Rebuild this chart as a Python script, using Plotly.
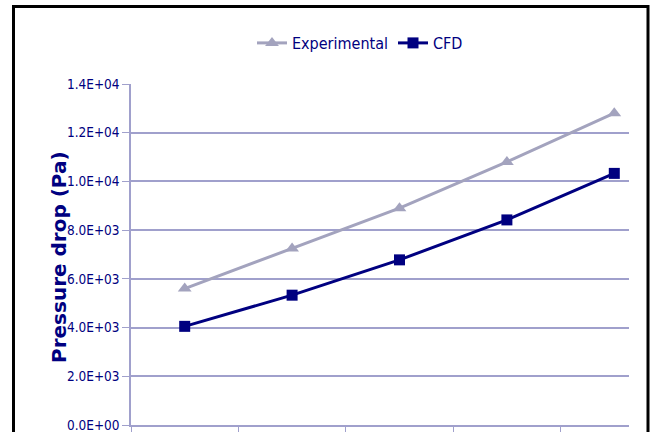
import plotly.graph_objects as go

categories = ["1", "2", "3", "4", "5"]
experimental = [5600, 7250, 8900, 10800, 12800]
cfd = [4050, 5330, 6780, 8420, 10330]
y_tick_vals = [0, 2000, 4000, 6000, 8000, 10000, 12000, 14000]
y_tick_text = ["0.0E+00", "2.0E+03", "4.0E+03", "6.0E+03", "8.0E+03",
               "1.0E+04", "1.2E+04", "1.4E+04"]

NAVY = "#000080"
GRAY = "#A3A3BE"
GRID = "#A0A0CC"
NARROW = "Liberation Sans Narrow, DejaVu Sans Condensed, Arial Narrow, sans-serif"

L, T = 131, 84
PW, PH = 498, 341
W, H = 652, 432

fig = go.Figure()
fig.add_trace(go.Scatter(
    x=categories, y=experimental, name="Experimental", mode="lines+markers",
    line=dict(color=GRAY, width=3),
    marker=dict(symbol="triangle-up", size=12, color=GRAY),
))
fig.add_trace(go.Scatter(
    x=categories, y=cfd, name="CFD", mode="lines+markers",
    line=dict(color=NAVY, width=3),
    marker=dict(symbol="square", size=11, color=NAVY),
))

def px_x(sx):
    return (sx - L) / PW

def px_y(sy):
    return (T + PH - sy) / PH

fig.update_layout(
    width=W, height=H,
    margin=dict(l=L, r=W - L - PW, t=T, b=H - T - PH),
    paper_bgcolor="white", plot_bgcolor="white",
    showlegend=True,
    legend=dict(
        orientation="h", x=px_x(360), y=px_y(43), xanchor="center", yanchor="middle",
        font=dict(family=NARROW, size=16, color=NAVY),
        itemwidth=30, tracegroupgap=0, bgcolor="rgba(0,0,0,0)",
    ),
    xaxis=dict(
        type="category", range=[-0.5, 4.137], automargin=False,
        showticklabels=False, ticks="outside", tickson="boundaries",
        ticklen=6, tickcolor=GRID, showgrid=False,
        showline=True, linecolor=GRID, linewidth=2, zeroline=False,
    ),
    yaxis=dict(
        range=[0, 14000], tickvals=y_tick_vals, ticktext=y_tick_text,
        automargin=False, ticklabeloverflow="allow",
        ticks="outside", ticklen=7, tickcolor=GRID,
        showgrid=True, gridcolor=GRID, gridwidth=1.5,
        showline=True, linecolor=GRID, linewidth=1.5, zeroline=False,
        tickfont=dict(family=NARROW, size=13.5, color=NAVY),
    ),
    annotations=[dict(
        text="<b>Pressure drop (Pa)</b>", textangle=-90,
        xref="paper", yref="paper", x=px_x(59), y=px_y(257),
        xanchor="center", yanchor="middle", showarrow=False,
        font=dict(family="DejaVu Sans, sans-serif", size=20, color=NAVY),
    )],
    shapes=[dict(
        type="rect", xref="paper", yref="paper",
        x0=px_x(13.5), x1=px_x(648),
        y0=px_y(445), y1=px_y(6.5),
        line=dict(color="black", width=3), fillcolor="rgba(0,0,0,0)", layer="above",
    )],
)

fig.write_html("out.html", config={"displayModeBar": False},
               post_script="document.body.style.margin='0';")
